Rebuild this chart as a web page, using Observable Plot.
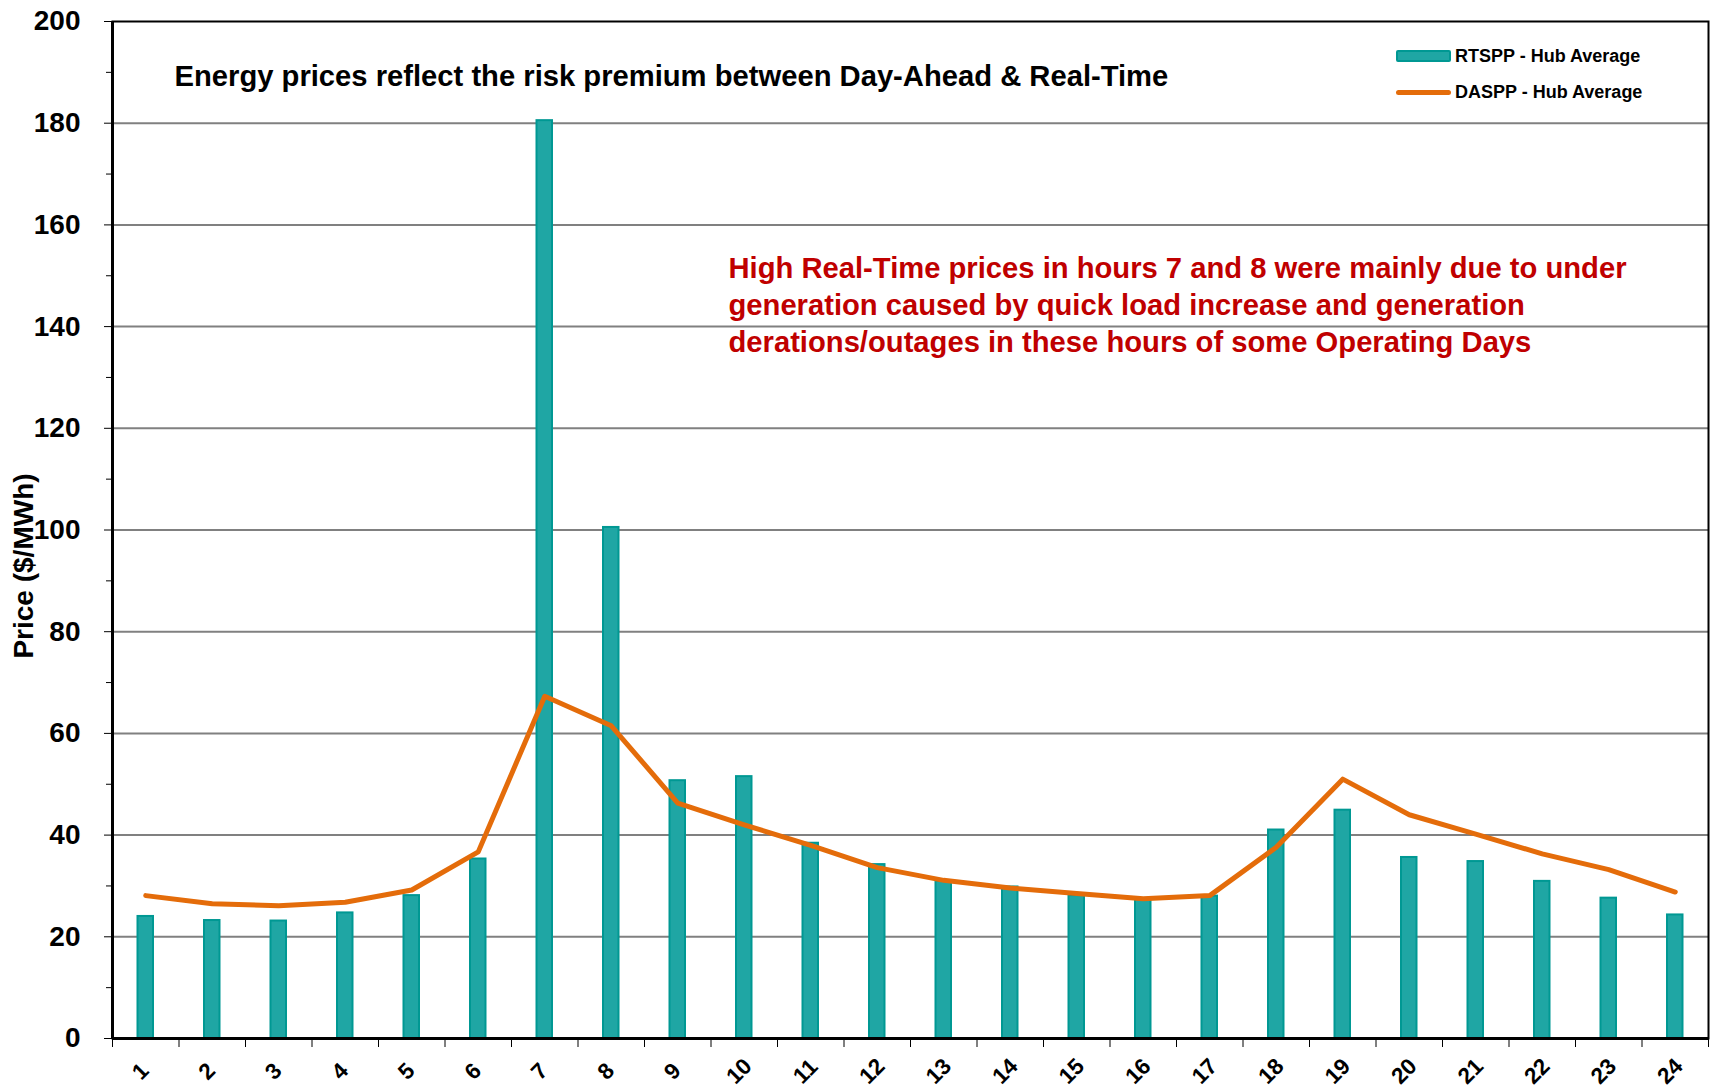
<!DOCTYPE html>
<html>
<head>
<meta charset="utf-8">
<script src="https://cdn.jsdelivr.net/npm/d3@7"></script>
<script src="https://cdn.jsdelivr.net/npm/@observablehq/plot@0.6"></script>
<style>
  html, body { margin: 0; padding: 0; background: #fff; }
  #wrap { position: relative; width: 1710px; height: 1090px; font-family: "Liberation Sans", Arial, sans-serif; }
  .lg-sw { position: absolute; box-sizing: border-box; }
  .lg-tx { position: absolute; font-weight: bold; font-size: 18px; line-height: 20px; color: #000; white-space: nowrap; }
</style>
</head>
<body>
<div id="wrap"></div>
<script>
// ---- data ----
const hours = d3.range(1, 25);
const rtspp = [24.0, 23.2, 23.1, 24.7, 28.1, 35.3, 180.5, 100.5, 50.7, 51.5, 38.4, 34.2,
               30.9, 29.8, 28.1, 27.4, 28.0, 41.0, 44.9, 35.6, 34.8, 30.9, 27.6, 24.3];
const daspp = [28.1, 26.5, 26.1, 26.8, 29.2, 36.7, 67.3, 61.5, 46.3, 42.0, 38.0, 33.6,
               31.1, 29.6, 28.5, 27.5, 28.1, 37.6, 51.0, 44.0, 40.2, 36.3, 33.2, 28.8];
const yMajorTicks = d3.range(0, 201, 20);
const yMinorTicks = d3.range(10, 200, 20);
const gridValues = d3.range(20, 181, 20);
const xBoundaries = d3.range(0.5, 25, 1);
const titleText = "Energy prices reflect the risk premium between Day-Ahead & Real-Time";
const noteText = "High Real-Time prices in hours 7 and 8 were mainly due to under\ngeneration caused by quick load increase and generation\nderations/outages in these hours of some Operating Days";
const yLabel = "Price ($/MWh)";
const seriesNames = ["RTSPP - Hub Average", "DASPP - Hub Average"];

const data = hours.map((h, i) => ({hour: h, rt: rtspp[i], da: daspp[i]}));

const teal = "#1fa6a4", tealEdge = "#009893", orange = "#e46c0a", red = "#c00000";

const chart = Plot.plot({
  width: 1710,
  height: 1090,
  marginLeft: 112,
  marginRight: 2,
  marginTop: 21,
  marginBottom: 52,
  style: {fontFamily: "'Liberation Sans', Arial, sans-serif", background: "#fff", color: "#000"},
  x: {type: "linear", domain: [0.5, 24.5]},
  y: {domain: [0, 200]},
  marks: [
    Plot.ruleY(gridValues, {stroke: "#808080", strokeWidth: 2}),
    Plot.rectY(data, {x1: d => d.hour - 0.5, x2: d => d.hour + 0.5, y1: 0, y2: "rt",
      insetLeft: 25.5, insetRight: 25.5, fill: teal, stroke: tealEdge, strokeWidth: 2}),
    Plot.lineY(data, {x: "hour", y: "da", stroke: orange, strokeWidth: 5, strokeLinejoin: "round", strokeLinecap: "round"}),
    Plot.frame({stroke: "#000", strokeWidth: 2}),
    Plot.ruleY([0], {stroke: "#000", strokeWidth: 3}),
    Plot.ruleX([0.5], {stroke: "#000", strokeWidth: 3}),
    Plot.axisY({ticks: yMajorTicks, tickSize: 8, tickPadding: 24, label: null,
      fontSize: 28, fontWeight: "bold", stroke: "#000"}),
    Plot.axisY({ticks: yMinorTicks, tickSize: 6, tickFormat: () => "", label: null, stroke: "#000"}),
    Plot.axisX({ticks: xBoundaries, tickSize: 9, tickFormat: () => "", label: null, stroke: "#000"}),
    Plot.text(hours, {x: d => d, frameAnchor: "bottom", dy: 38, rotate: -45,
      text: d => String(d), fontSize: 22.5, fontWeight: "bold", fill: "#000"}),
    Plot.text([yLabel], {frameAnchor: "left", textAnchor: "middle", dx: -88, dy: 36, rotate: -90,
      fontSize: 28, fontWeight: "bold", fill: "#000"}),
    Plot.text([titleText], {frameAnchor: "top-left", dx: 62, dy: 55, textAnchor: "start",
      lineAnchor: "middle", fontSize: 29.2, fontWeight: "bold", fill: "#000"}),
    Plot.text([noteText], {frameAnchor: "top-left", dx: 616, dy: 282, textAnchor: "start",
      lineAnchor: "middle", lineHeight: 1.26, fontSize: 29.2, fontWeight: "bold", fill: red})
  ]
});

const wrap = document.getElementById("wrap");
wrap.appendChild(chart);

// legend (inside plot, top right)
function addDiv(cls, style, text) {
  const d = document.createElement("div");
  d.className = cls;
  Object.assign(d.style, style);
  if (text) d.textContent = text;
  wrap.appendChild(d);
}
addDiv("lg-sw", {left: "1396px", top: "50px", width: "55px", height: "12px",
  background: teal, border: "2px solid " + tealEdge, borderRadius: "2px"});
addDiv("lg-tx", {left: "1455px", top: "46px"}, seriesNames[0]);
addDiv("lg-sw", {left: "1396px", top: "90px", width: "55px", height: "5px",
  background: orange, borderRadius: "3px"});
addDiv("lg-tx", {left: "1455px", top: "82px"}, seriesNames[1]);
</script>
</body>
</html>
